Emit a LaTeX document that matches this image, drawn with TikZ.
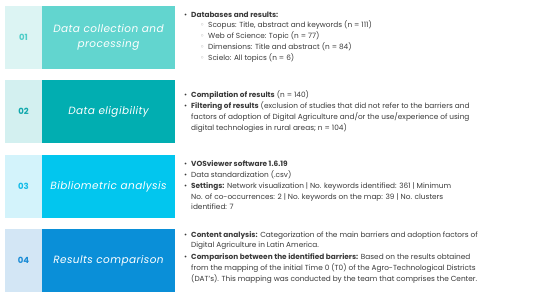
\documentclass[tikz,border=0pt]{standalone}
\usepackage{fontspec}
\setmainfont{Poppins}
\newfontfamily\titlefont[LetterSpace=4]{Poppins}
\newfontfamily\dejavu{DejaVu Sans}
\definecolor{txt}{HTML}{3A3A3A}
\definecolor{lightA}{HTML}{DCF4F3}\definecolor{darkA}{HTML}{62D5CF}\definecolor{numA}{HTML}{4ECDC8}
\definecolor{lightB}{HTML}{D3F0F0}\definecolor{darkB}{HTML}{01AEB1}\definecolor{numB}{HTML}{10A8AC}
\definecolor{lightC}{HTML}{D3F3FB}\definecolor{darkC}{HTML}{02C6EE}\definecolor{numC}{HTML}{14BCE8}
\definecolor{lightD}{HTML}{D3E6F5}\definecolor{darkD}{HTML}{0A8FD8}\definecolor{numD}{HTML}{1A8CD6}
\newcommand{\bl}{\makebox[7pt][l]{•}}
\newcommand{\hang}{\hspace*{7pt}}
\newcommand{\sbl}{\hspace*{16pt}\makebox[8pt][l]{\textcolor{gray!70}{\dejavu ◦}}}
\begin{document}
\begin{tikzpicture}[x=1pt,y=-1pt,
  numbox/.style={minimum width=37pt,minimum height=63pt,inner sep=0pt,font=\fontsize{8.5}{10}\selectfont\bfseries},
  titlebox/.style={minimum width=133pt,minimum height=63pt,inner sep=0pt,text=white,align=center,font=\titlefont\fontsize{10.5}{15}\selectfont\itshape},
  desc/.style={anchor=west,inner sep=0pt,align=left,text=txt,font=\fontsize{7.35}{10.8}\selectfont}]
\useasboundingbox (0,0) rectangle (550,297);
\fill[white] (0,0) rectangle (550,297);
% row 1
\node[numbox,fill=lightA,text=numA] (n1) at (23.5,37.5) {01};
\node[titlebox,fill=darkA] (t1) at (108.5,37.5) {Data collection and\\processing};
\node[desc] (d1) at (184,37) {\bl\textbf{Databases and results:}\\
\sbl Scopus: Title, abstract and keywords (n = 111)\\
\sbl Web of Science: Topic (n = 77)\\
\sbl Dimensions: Title and abstract (n = 84)\\
\sbl Scielo: All topics (n = 6)};
% row 2
\node[numbox,fill=lightB,text=numB] (n2) at (23.5,111.5) {02};
\node[titlebox,fill=darkB] (t2) at (108.5,111.5) {Data eligibility};
\node[desc] (d2) at (184,111.3) {\bl\textbf{Compilation of results} (n = 140)\\[1pt]
\bl\textbf{Filtering of results} (exclusion of studies that did not refer to the barriers and\\
\hang factors of adoption of Digital Agriculture and/or the use/experience of using\\
\hang digital technologies in rural areas; n = 104)};
% row 3
\node[numbox,fill=lightC,text=numC] (n3) at (23.5,186.5) {03};
\node[titlebox,fill=darkC] (t3) at (108.5,186.5) {Bibliometric analysis};
\node[desc] (d3) at (184,185.4) {\bl\textbf{VOSviewer software 1.6.19}\\
\bl Data standardization (.csv)\\
\bl\textbf{Settings:} Network visualization | No. keywords identified: 361 | Minimum\\
\hang No. of co-occurrences: 2 | No. keywords on the map: 39 | No. clusters\\
\hang identified: 7};
% row 4
\node[numbox,fill=lightD,text=numD] (n4) at (23.5,260.5) {04};
\node[titlebox,fill=darkD] (t4) at (108.5,260.5) {Results comparison};
\node[desc] (d4) at (184,257.3) {\bl\textbf{Content analysis:} Categorization of the main barriers and adoption factors of\\
\hang Digital Agriculture in Latin America.\\[1pt]
\bl\textbf{Comparison between the identified barriers:} Based on the results obtained\\
\hang from the mapping of the initial Time 0 (T0) of the Agro-Technological Districts\\
\hang (DAT's). This mapping was conducted by the team that comprises the Center.};
\end{tikzpicture}
\end{document}
